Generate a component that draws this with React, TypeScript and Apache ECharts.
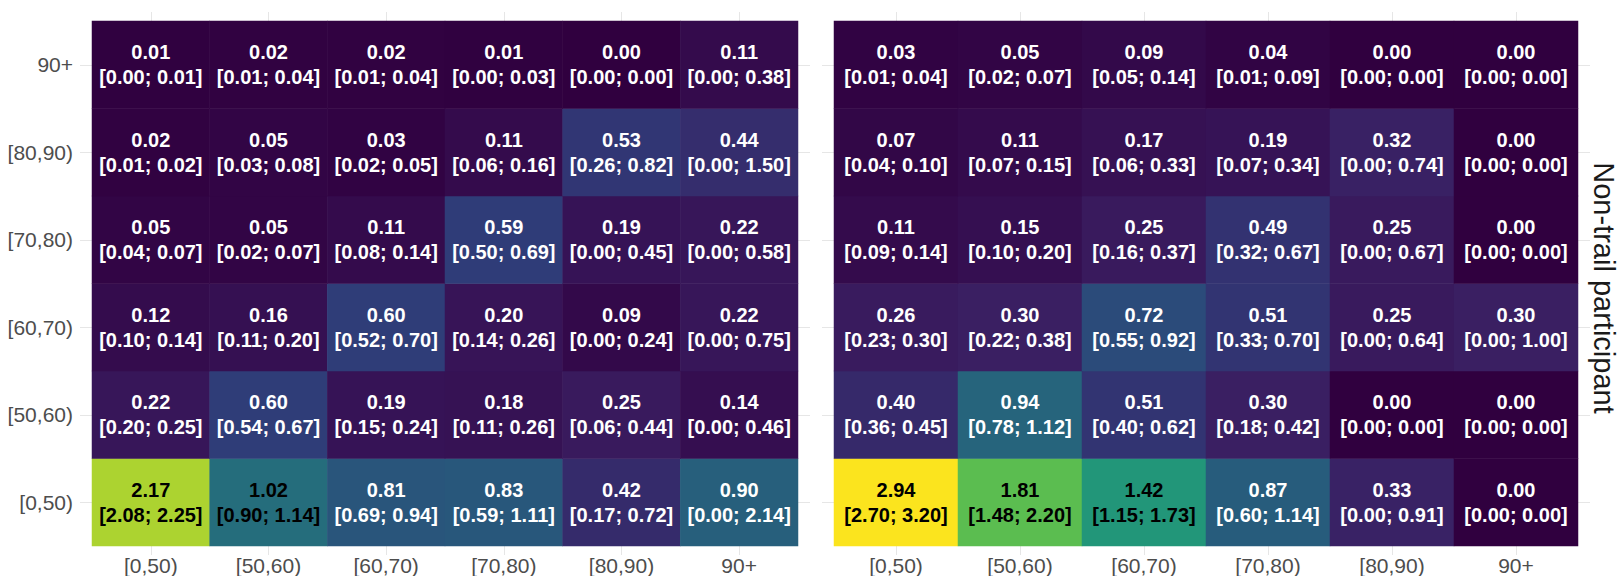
import React, { useEffect, useRef } from "react";
import * as echarts from "echarts";

// Categories (bottom -> top for rows, left -> right for columns)
const xCategories = ["[0,50)", "[50,60)", "[60,70)", "[70,80)", "[80,90)", "90+"];
const yCategories = ["[0,50)", "[50,60)", "[60,70)", "[70,80)", "[80,90)", "90+"];
const stripLabel = "Non-trail participant";

// Left panel: rows follow yCategories order, columns follow xCategories order
const leftMean = [
  [2.17, 1.02, 0.81, 0.83, 0.42, 0.9],
  [0.22, 0.6, 0.19, 0.18, 0.25, 0.14],
  [0.12, 0.16, 0.6, 0.2, 0.09, 0.22],
  [0.05, 0.05, 0.11, 0.59, 0.19, 0.22],
  [0.02, 0.05, 0.03, 0.11, 0.53, 0.44],
  [0.01, 0.02, 0.02, 0.01, 0.0, 0.11],
];
const leftLower = [
  [2.08, 0.9, 0.69, 0.59, 0.17, 0.0],
  [0.2, 0.54, 0.15, 0.11, 0.06, 0.0],
  [0.1, 0.11, 0.52, 0.14, 0.0, 0.0],
  [0.04, 0.02, 0.08, 0.5, 0.0, 0.0],
  [0.01, 0.03, 0.02, 0.06, 0.26, 0.0],
  [0.0, 0.01, 0.01, 0.0, 0.0, 0.0],
];
const leftUpper = [
  [2.25, 1.14, 0.94, 1.11, 0.72, 2.14],
  [0.25, 0.67, 0.24, 0.26, 0.44, 0.46],
  [0.14, 0.2, 0.7, 0.26, 0.24, 0.75],
  [0.07, 0.07, 0.14, 0.69, 0.45, 0.58],
  [0.02, 0.08, 0.05, 0.16, 0.82, 1.5],
  [0.01, 0.04, 0.04, 0.03, 0.0, 0.38],
];

// Right panel
const rightMean = [
  [2.94, 1.81, 1.42, 0.87, 0.33, 0.0],
  [0.4, 0.94, 0.51, 0.3, 0.0, 0.0],
  [0.26, 0.3, 0.72, 0.51, 0.25, 0.3],
  [0.11, 0.15, 0.25, 0.49, 0.25, 0.0],
  [0.07, 0.11, 0.17, 0.19, 0.32, 0.0],
  [0.03, 0.05, 0.09, 0.04, 0.0, 0.0],
];
const rightLower = [
  [2.7, 1.48, 1.15, 0.6, 0.0, 0.0],
  [0.36, 0.78, 0.4, 0.18, 0.0, 0.0],
  [0.23, 0.22, 0.55, 0.33, 0.0, 0.0],
  [0.09, 0.1, 0.16, 0.32, 0.0, 0.0],
  [0.04, 0.07, 0.06, 0.07, 0.0, 0.0],
  [0.01, 0.02, 0.05, 0.01, 0.0, 0.0],
];
const rightUpper = [
  [3.2, 2.2, 1.73, 1.14, 0.91, 0.0],
  [0.45, 1.12, 0.62, 0.42, 0.0, 0.0],
  [0.3, 0.38, 0.92, 0.7, 0.64, 1.0],
  [0.14, 0.2, 0.37, 0.67, 0.67, 0.0],
  [0.1, 0.15, 0.33, 0.34, 0.74, 0.0],
  [0.04, 0.07, 0.14, 0.09, 0.0, 0.0],
];

const colorMin = 0;
const colorMax = 2.94;
const palette = [
  "#30003F",
  "#3A1E62",
  "#2F3C78",
  "#275D7C",
  "#23807D",
  "#229B78",
  "#50BA55",
  "#98CE36",
  "#CDDC26",
  "#E6E022",
  "#FBE41E",
];

function buildData(mean: number[][], lower: number[][], upper: number[][]) {
  const out: number[][] = [];
  for (let yi = 0; yi < yCategories.length; yi++) {
    for (let xi = 0; xi < xCategories.length; xi++) {
      out.push([xi, yi, mean[yi][xi], lower[yi][xi], upper[yi][xi]]);
    }
  }
  return out;
}

const FONT = "Arial, 'Liberation Sans', Helvetica, sans-serif";
const TICK_COLOR = "#E6E6E6";
const LABEL_COLOR = "#4D4D4D";

export default function App() {
  const ref = useRef<HTMLDivElement>(null);

  useEffect(() => {
    if (!ref.current) return;
    const chart = echarts.init(ref.current, undefined, { renderer: "svg" });

    const cellText = { fontSize: 20, fontWeight: "bold" as const, lineHeight: 25, fontFamily: FONT };

    const labelCfg = {
      show: true,
      formatter: (p: any) => {
        const d = p.data as number[];
        const s = d[2] >= 1 ? "k" : "w";
        return `{${s}|${d[2].toFixed(2)}}\n{${s}|[${d[3].toFixed(2)}; ${d[4].toFixed(2)}]}`;
      },
      rich: {
        w: { ...cellText, color: "#FFFFFF" },
        k: { ...cellText, color: "#000000" },
      },
    };

    const xAx = (gridIndex: number, position: "top" | "bottom", labels: boolean) => ({
      type: "category" as const,
      gridIndex,
      position,
      data: xCategories,
      axisLine: { show: false },
      axisTick: { show: true, alignWithLabel: true, interval: 0, length: 9, lineStyle: { color: TICK_COLOR, width: 1 } },
      axisLabel: { show: labels, interval: 0, color: LABEL_COLOR, fontSize: 21, margin: 9, fontFamily: FONT },
      splitLine: { show: false },
    });
    const yAx = (gridIndex: number, position: "left" | "right", labels: boolean) => ({
      type: "category" as const,
      gridIndex,
      position,
      data: yCategories,
      axisLine: { show: false },
      axisTick: { show: true, alignWithLabel: true, interval: 0, length: 12, lineStyle: { color: TICK_COLOR, width: 1 } },
      axisLabel: { show: labels, interval: 0, color: LABEL_COLOR, fontSize: 21, margin: 19, fontFamily: FONT },
      splitLine: { show: false },
    });

    chart.setOption({
      animation: false,
      backgroundColor: "#FFFFFF",
      grid: [
        { left: 92, top: 21, width: 706, height: 534 },
        { left: 834, top: 21, width: 744, height: 534 },
      ],
      xAxis: [xAx(0, "bottom", true), xAx(0, "top", false), xAx(1, "bottom", true), xAx(1, "top", false)],
      yAxis: [yAx(0, "left", true), yAx(0, "right", false), yAx(1, "left", false), yAx(1, "right", false)],
      visualMap: {
        type: "continuous",
        show: false,
        min: colorMin,
        max: colorMax,
        dimension: 2,
        seriesIndex: [0, 1],
        inRange: { color: palette },
      },
      series: [
        {
          type: "heatmap",
          xAxisIndex: 0,
          yAxisIndex: 0,
          data: buildData(leftMean, leftLower, leftUpper),
          label: labelCfg,
          emphasis: { disabled: true },
        },
        {
          type: "heatmap",
          xAxisIndex: 2,
          yAxisIndex: 2,
          data: buildData(rightMean, rightLower, rightUpper),
          label: labelCfg,
          emphasis: { disabled: true },
        },
      ],
      graphic: [
        {
          type: "text",
          x: 1604,
          y: 288,
          rotation: -Math.PI / 2,
          style: {
            text: stripLabel,
            fontSize: 29,
            fontFamily: FONT,
            fill: "#1A1A1A",
            align: "center",
            verticalAlign: "middle",
          },
        },
      ],
    });

    return () => chart.dispose();
  }, []);

  return (
    <div
      ref={ref}
      style={{ position: "fixed", left: 0, top: 0, width: 1621, height: 576, background: "#fff" }}
    />
  );
}
